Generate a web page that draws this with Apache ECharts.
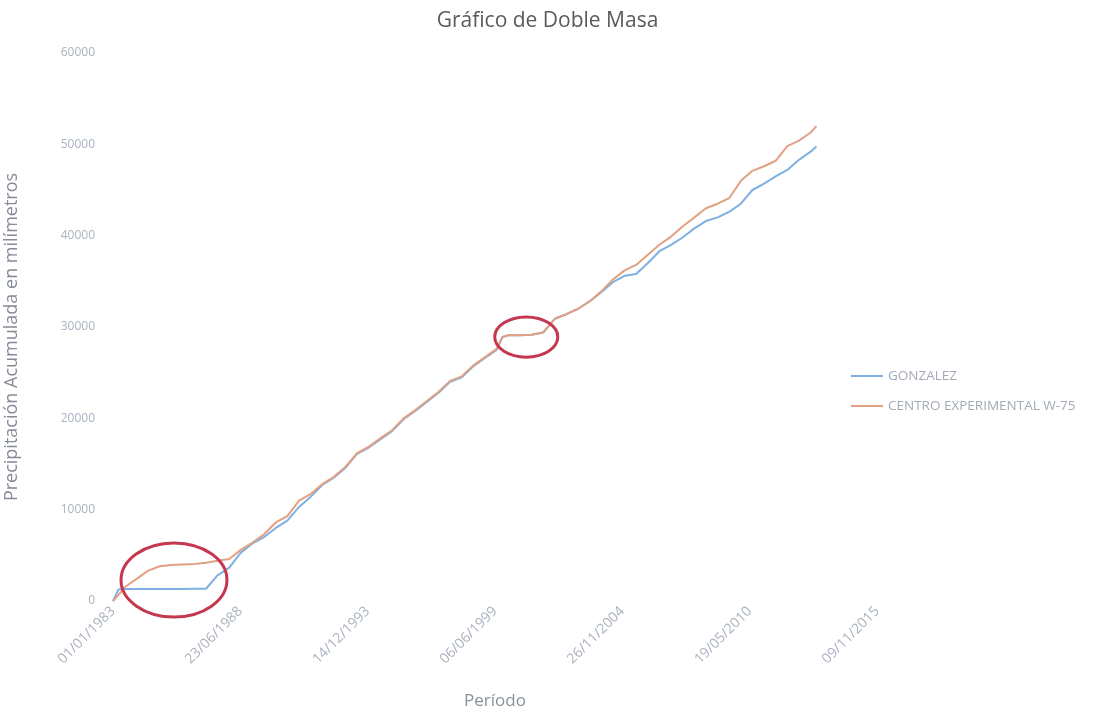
<!DOCTYPE html>
<html>
<head>
<meta charset="utf-8">
<script src="https://cdn.jsdelivr.net/npm/echarts@6/dist/echarts.min.js"></script>
<style>
html,body{margin:0;padding:0;background:#fff;}
#chart{width:1095px;height:712px;}
</style>
</head>
<body>
<div id="chart"></div>
<script>
// Dates of the readings (semi-annual, with a few extra points)
const dates = [
 '1983-01-01','1983-04-01','1983-07-01',
 '1984-01-01','1984-07-01','1985-01-01','1985-07-01','1986-01-01','1986-07-01',
 '1987-01-01','1987-07-01','1988-01-01','1988-07-01','1989-01-01','1989-07-01',
 '1990-01-01','1990-07-01','1991-01-01','1991-07-01','1992-01-01','1992-07-01',
 '1993-01-01','1993-07-01','1994-01-01','1994-07-01','1995-01-01','1995-07-01',
 '1996-01-01','1996-07-01','1997-01-01','1997-07-01','1998-01-01','1998-07-01',
 '1999-01-01','1999-07-01','1999-10-01','2000-01-01','2000-07-01','2001-01-01','2001-07-01',
 '2002-01-01','2002-07-01','2003-01-01','2003-07-01','2004-01-01','2004-07-01',
 '2005-01-01','2005-07-01','2006-01-01','2006-07-01','2007-01-01','2007-07-01',
 '2008-01-01','2008-07-01','2009-01-01','2009-07-01','2010-01-01','2010-07-01',
 '2011-01-01','2011-07-01','2012-01-01','2012-07-01','2013-01-01','2013-04-01'
];
// Accumulated precipitation (mm)
const gonzalez = [
 0,1300,1320,
 1320,1320,1320,1320,1320,1330,
 1340,2800,3650,5300,6300,7000,
 8000,8800,10300,11400,12700,13500,
 14600,16100,16800,17700,18600,19900,
 20800,21800,22800,24000,24500,25700,
 26600,27500,28900,29100,29100,29150,29400,
 30900,31400,32000,32800,33800,34900,
 35600,35800,37000,38300,39000,39800,
 40800,41600,42000,42600,43500,45000,
 45700,46500,47200,48300,49200,49750
];
const centroW75 = [
 0,700,1500,
 2400,3300,3800,3950,4000,4050,
 4200,4400,4600,5600,6400,7300,
 8600,9300,11000,11700,12800,13600,
 14700,16200,16900,17800,18700,20000,
 20900,21900,22900,24100,24600,25800,
 26700,27600,28900,29100,29100,29150,29400,
 30900,31400,32000,32800,33900,35200,
 36200,36800,37900,39000,39900,41000,
 42000,43000,43500,44100,46000,47100,
 47600,48200,49800,50400,51300,52000
];
// Annotation ellipses, as data bounds: [startDate, endDate, low, high]
const circles = [
 ['1983-05-07','1987-11-26',-1750,6350],
 ['1999-06-02','2002-02-16',26700,31100]
];
const origin = '1983-01-01';
const xTickInterval = 2000; // days
const xMax = 12000;
const yMax = 60000, yInterval = 10000;

function dayNum(s){
  const p = s.split('-').map(Number);
  const o = origin.split('-').map(Number);
  return Math.round((Date.UTC(p[0],p[1]-1,p[2]) - Date.UTC(o[0],o[1]-1,o[2]))/86400000);
}
function fmt(v){
  const o = origin.split('-').map(Number);
  const d = new Date(Date.UTC(o[0],o[1]-1,o[2]) + v*86400000);
  const dd = String(d.getUTCDate()).padStart(2,'0');
  const mm = String(d.getUTCMonth()+1).padStart(2,'0');
  return dd + '/' + mm + '/' + d.getUTCFullYear();
}
const xs = dates.map(dayNum);
const blueData = xs.map((x,i)=>[x,gonzalez[i]]);
const orangeData = xs.map((x,i)=>[x,centroW75[i]]);

const font = '"Open Sans", "Liberation Sans", sans-serif';
const chart = echarts.init(document.getElementById('chart'));
chart.setOption({
  backgroundColor:'#ffffff',
  animation:false,
  title:{
    text:'Gráfico de Doble Masa',
    left:'center', top:6,
    textStyle:{fontFamily:font,fontSize:21,fontWeight:'normal',color:'#5a5a5a'}
  },
  legend:{
    orient:'vertical', left:846, top:364, itemGap:16,
    icon:'rect', itemWidth:32, itemHeight:2,
    textStyle:{fontFamily:font,fontSize:13.5,color:'#a3abb8'},
    data:['GONZALEZ','CENTRO EXPERIMENTAL W-75']
  },
  grid:{left:113,right:218,top:53,bottom:111,outerBoundsMode:'none',containLabel:false},
  xAxis:{
    type:'value', min:0, max:xMax, interval:xTickInterval,
    name:'Período', nameLocation:'middle', nameGap:92,
    nameTextStyle:{fontFamily:font,fontSize:17,color:'#8a909c'},
    axisLine:{show:false}, axisTick:{show:false}, splitLine:{show:false},
    axisLabel:{rotate:45,margin:8,fontFamily:font,fontSize:14,color:'#aab2bf',formatter:fmt}
  },
  yAxis:{
    type:'value', min:0, max:yMax, interval:yInterval,
    name:'Precipitación Acumulada en milímetros', nameLocation:'middle', nameGap:92,
    nameTextStyle:{fontFamily:font,fontSize:18,color:'#858b97',padding:[0,20,0,0]},
    axisLine:{show:false}, axisTick:{show:false}, splitLine:{show:false},
    axisLabel:{margin:18,fontFamily:font,fontSize:12,color:'#aab2bf',formatter:v=>String(v)}
  },
  series:[
    {name:'GONZALEZ',type:'line',data:blueData,showSymbol:false,
     lineStyle:{width:2,color:'#7eb0e2'},itemStyle:{color:'#7eb0e2'}},
    {name:'CENTRO EXPERIMENTAL W-75',type:'line',data:orangeData,showSymbol:false,
     lineStyle:{width:2,color:'#e3a184'},itemStyle:{color:'#e3a184'}}
  ]
});
const g = circles.map(c=>{
  const a = chart.convertToPixel({gridIndex:0},[dayNum(c[0]),c[3]]);
  const b = chart.convertToPixel({gridIndex:0},[dayNum(c[1]),c[2]]);
  return {
    type:'ellipse', z:100,
    shape:{cx:(a[0]+b[0])/2, cy:(a[1]+b[1])/2, rx:Math.abs(b[0]-a[0])/2, ry:Math.abs(b[1]-a[1])/2},
    style:{fill:'none',stroke:'#c4374f',lineWidth:3}
  };
});
chart.setOption({graphic:g});
</script>
</body>
</html>
